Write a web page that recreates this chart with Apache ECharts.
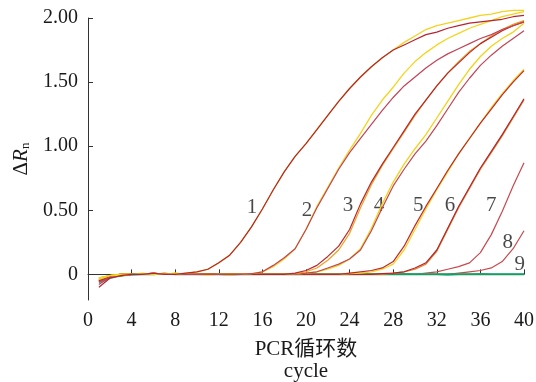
<!DOCTYPE html>
<html>
<head>
<meta charset="utf-8">
<script src="https://cdn.jsdelivr.net/npm/echarts@6/dist/echarts.min.js"></script>
<style>html,body{margin:0;padding:0;background:#fff;}#c{width:536px;height:382px;}</style>
</head>
<body>
<div id="c"></div>
<script>
var cycles = [1,2,3,4,5,6,7,8,9,10,11,12,13,14,15,16,17,18,19,20,21,22,23,24,25,26,27,28,29,30,31,32,33,34,35,36,37,38,39,40];
var xTicks = [0,4,8,12,16,20,24,28,32,36,40];
var yTicks = [0,0.5,1,1.5,2];

// negative control (9), several wells
var neg9a = [-0.05,-0.02,-0.01,0,0,0,0.005,0,0,0,0,0,0,0,0,0,0,0,0,0,0,0,0,0,0,0,0,0,0,0,0,0,0,0,0,0,0,0,0,0];
var neg9b = [-0.07,-0.03,-0.01,-0.005,0,0,0,0,0,0,0,0,-0.005,0,0,0,0,0,0,0,0,0,0,0,0,0,0,0,0,0,0,0,-0.005,0,0,0,0,0,0,0];
var neg9c = [-0.03,-0.01,0,0,0,0.005,0,0,0,0,0,0,0,0,0,0,0,0,0,0,0,0,0,0,0,0,0,0,0.005,0,0,0,0,0,0,0.005,0,0,0,0];

var c1a = [-0.04,-0.01,-0.01,0,0,0.01,0,0,0.01,0.02,0.04,0.09,0.15,0.25,0.37,0.51,0.66,0.80,0.92,1.02,1.13,1.24,1.35,1.45,1.54,1.62,1.69,1.75,1.81,1.86,1.91,1.94,1.96,1.98,2.00,2.02,2.03,2.05,2.06,2.06];
var c1b = [-0.10,-0.03,-0.01,0,0,0.01,0,0,0.01,0.02,0.04,0.09,0.15,0.25,0.37,0.51,0.66,0.80,0.92,1.02,1.13,1.24,1.35,1.45,1.54,1.62,1.69,1.75,1.79,1.83,1.87,1.89,1.92,1.94,1.96,1.97,1.98,1.99,2.01,2.02];
var c2a = [-0.03,-0.01,0,0,0.01,0,0,0.01,0,0,-0.005,0,0,0,0.005,0.02,0.06,0.12,0.20,0.35,0.53,0.68,0.83,0.97,1.10,1.24,1.36,1.46,1.57,1.66,1.73,1.79,1.84,1.88,1.92,1.95,1.98,2.01,2.03,2.05];
var c2b = [-0.06,-0.02,-0.01,0,0,0.01,0,0,0,0,0,0,0,0,0.005,0.02,0.07,0.13,0.20,0.35,0.52,0.67,0.82,0.95,1.06,1.17,1.28,1.38,1.47,1.54,1.61,1.67,1.72,1.76,1.80,1.84,1.87,1.91,1.94,1.97];
var c3a = [-0.05,-0.02,-0.01,0,0,0.01,0,0,0,0,0,0,0,0,0,0,0,0,0.01,0.03,0.07,0.14,0.22,0.35,0.55,0.72,0.86,0.99,1.12,1.25,1.36,1.47,1.57,1.65,1.73,1.80,1.85,1.90,1.94,1.97];
var c3b = [-0.04,-0.01,0,0,0,0,0.01,0,0,0,0,0,0,0,0,0,0,0,0.005,0.02,0.05,0.11,0.19,0.32,0.52,0.70,0.85,0.98,1.11,1.24,1.36,1.47,1.57,1.66,1.74,1.80,1.86,1.91,1.95,1.98];
var c4a = [-0.03,-0.01,0,0,0,0,0,0.01,0,0,0,0,0,0,0,0,0,0,0,0.01,0.02,0.04,0.07,0.12,0.20,0.36,0.55,0.72,0.86,0.98,1.09,1.22,1.35,1.48,1.60,1.70,1.78,1.84,1.89,1.96];
var c4b = [-0.08,-0.02,-0.01,0,0,0,0,0,0,0,0,0,0,0,0,0,0,0,0,0.01,0.02,0.05,0.08,0.12,0.19,0.34,0.52,0.69,0.82,0.94,1.04,1.16,1.29,1.42,1.53,1.63,1.71,1.78,1.84,1.90];
var c5a = [-0.04,-0.01,0,0,0,0,0,0,0,0,0,0,0,0,0,0,0,0,0,0,0,0,0,0.01,0.02,0.03,0.05,0.10,0.22,0.38,0.53,0.67,0.81,0.94,1.06,1.18,1.29,1.40,1.50,1.59];
var c5b = [-0.03,-0.01,0,0,0,0,0,0,0,0,0,0,-0.005,0,0,0,0,0,0,0,0,0,0,0.005,0.01,0.02,0.04,0.08,0.19,0.35,0.51,0.66,0.80,0.94,1.06,1.18,1.30,1.41,1.51,1.60];
var c6a = [-0.06,-0.02,0,0,0,0,0,0,0,0,0,0,0,0,0,0,0,0,0,0,0,0,0,0,0,0,0.005,0.01,0.02,0.05,0.09,0.19,0.36,0.53,0.68,0.83,0.96,1.09,1.23,1.37];
var c6b = [-0.05,-0.02,-0.01,0,0,0,0,0,0,0,0,0,0,0,0,0,0,0,0,0,0,0,0,0,0,0,0,0.01,0.02,0.04,0.08,0.18,0.35,0.52,0.67,0.82,0.95,1.08,1.22,1.36];
var c7 = [-0.05,-0.02,-0.01,0,0,0,0,0,0,0,0,0,0,0,0,0,0,0,0,0,0,0,0,0,0,0,0,0,0,0,0.01,0.02,0.04,0.06,0.09,0.17,0.31,0.49,0.69,0.87];
var c8 = [-0.04,-0.01,0,0,0,0,0,0,0,0,0,0,0,0,0,0,0,0,0,0,0,0,0,0,0,0,0,0,0,0,0,0,0,0.01,0.02,0.03,0.05,0.10,0.20,0.34];

var labelTexts = ['1','2','3','4','5','6','7','8','9'];
var labelX = [15.05,20.1,23.85,26.7,30.3,33.2,37.0,38.5,39.6];
var labelY = [0.52,0.50,0.54,0.54,0.54,0.54,0.54,0.25,0.08];

var FONT = '"Liberation Serif","Times New Roman","Noto Sans CJK SC",serif';

function mk(arr, color, w) {
  return {
    type: 'line', data: cycles.map(function (c, i) { return [c, arr[i]]; }),
    showSymbol: false, symbol: 'none', clip: false, silent: true,
    lineStyle: { color: color, width: w || 1.2 }
  };
}

var series = [
  mk(c8, '#c9484d'),
  mk(c7, '#c9484d'),
  mk(neg9c, '#1e8f4a', 1.5),
  mk(neg9b, '#2cc0b8', 1.5),
  mk(neg9a, '#1a9d5c', 1.7),
  mk(c6b, '#e0832a'),
  mk(c6a, '#b5232b'),
  mk(c5b, '#f4d41e', 1.3),
  mk(c5a, '#c0282c'),
  mk(c4a, '#f2d318', 1.3),
  mk(c4b, '#c04656'),
  mk(c3b, '#f0a020'),
  mk(c3a, '#b8262c'),
  mk(c2a, '#f3d51c', 1.3),
  mk(c2b, '#c24357'),
  mk(c1a, '#f3d220', 1.3),
  mk(c1b, '#b52530'),
  {
    type: 'scatter', symbolSize: 0, silent: true, clip: false,
    data: labelTexts.map(function (t, i) { return { value: [labelX[i], labelY[i]], name: t }; }),
    label: { show: true, position: 'inside', formatter: '{b}', color: '#1a1a1a', fontSize: 21, fontFamily: FONT }
  }
];

var chart = echarts.init(document.getElementById('c'), null, { renderer: 'canvas' });
chart.setOption({
  animation: false,
  backgroundColor: '#fff',
  grid: { left: 88, right: 12, top: 18, bottom: 82, containLabel: false, outerBoundsMode: 'none' },
  xAxis: {
    type: 'value', min: 0, max: 40, interval: 4,
    axisLine: { show: true, lineStyle: { color: '#333', width: 1 } },
    axisTick: { show: true, inside: true, length: 5, lineStyle: { color: '#333' } },
    axisLabel: { color: '#1a1a1a', fontSize: 20, fontFamily: FONT, margin: 11 },
    splitLine: { show: false },
    name: 'PCR循环数\ncycle', nameLocation: 'middle', nameGap: 38,
    nameTextStyle: { color: '#1a1a1a', fontSize: 21, fontFamily: FONT, lineHeight: 22 }
  },
  yAxis: {
    type: 'value', min: -0.2, max: 2,
    axisLine: { show: true, onZero: false, lineStyle: { color: '#333', width: 1 } },
    axisTick: { show: true, inside: true, length: 5, customValues: yTicks, lineStyle: { color: '#333' } },
    axisLabel: {
      customValues: yTicks, color: '#1a1a1a', fontSize: 20, fontFamily: FONT, margin: 10,
      formatter: function (v) { return v === 0 ? '0' : v.toFixed(2); }
    },
    splitLine: { show: false },
    name: '{d|Δ}{r|R}{s|n}', nameLocation: 'middle', nameRotate: 90, nameGap: 48,
    nameTextStyle: {
      rich: {
        d: { fontSize: 21, fontFamily: FONT, color: '#1a1a1a' },
        r: { fontSize: 21, fontFamily: FONT, fontStyle: 'italic', color: '#1a1a1a' },
        s: { fontSize: 13, fontFamily: FONT, color: '#1a1a1a', padding: [9, 0, 0, 0] }
      }
    }
  },
  series: series
});
</script>
</body>
</html>
